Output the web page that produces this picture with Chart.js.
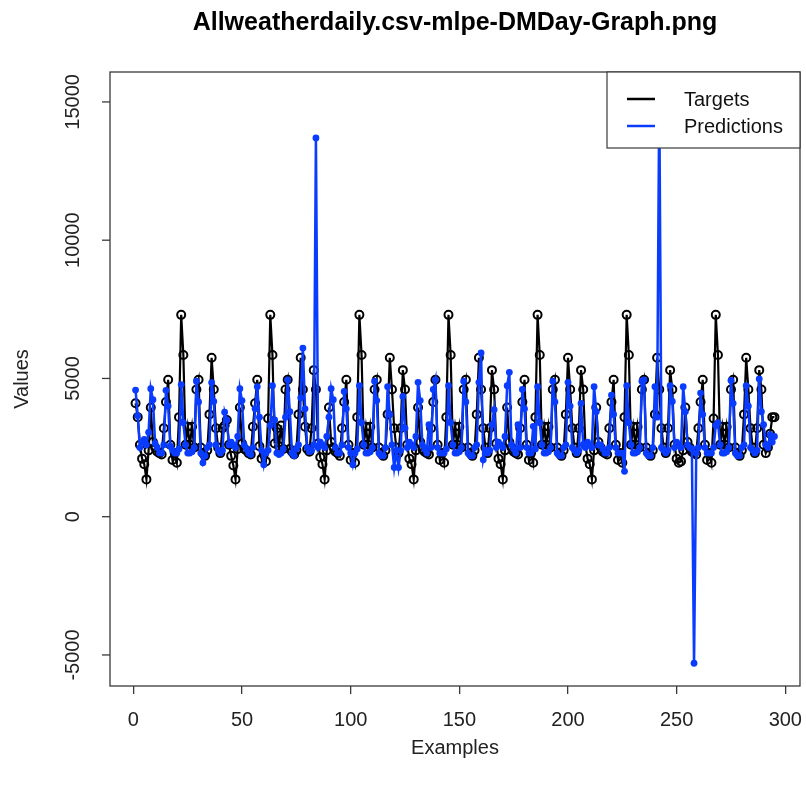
<!DOCTYPE html>
<html>
<head>
<meta charset="utf-8">
<script src="https://cdn.jsdelivr.net/npm/chart.js@4.4.1/dist/chart.umd.min.js"></script>
<style>
  html, body { margin: 0; padding: 0; background: #fff; }
  #wrap { width: 806px; height: 790px; }
</style>
</head>
<body>
<div id="wrap"><canvas id="c" width="806" height="790"></canvas></div>
<script>
// Observed daily totals (Targets) and model output (Predictions), one value per example 1..295
const targets = [
  4100,3600,2600,2100,1900,1350,2400,3950,2700,2500,
  2350,2300,2250,3200,4150,4950,2600,2050,2300,1950,
  3600,7300,5850,2600,3250,2600,3250,2500,4600,4950,
  2500,2300,2200,2400,3700,5750,4600,3200,2500,2300,
  3200,
  3300,3500,2600,2200,1850,1350,2450,3950,2650,2450,
  2400,2300,2250,3250,4100,4950,2550,2100,2250,2000,
  3550,7300,5850,2650,3200,2550,3300,2450,4600,4950,
  2450,2350,2250,2400,3700,5750,4600,3250,2450,2350,
  3200,
  5300,4600,2650,2150,1900,1350,2400,3950,2700,2500,
  2350,2300,2200,3200,4150,4950,2600,2050,2300,1950,
  3600,7300,5850,2600,3250,2600,3250,2500,4600,4950,
  2500,2300,2200,2400,3700,5750,4600,3200,2500,2300,
  3200,
  5300,4600,2600,2100,1900,1350,2400,3950,2700,2450,
  2350,2300,2250,3200,4150,4950,2600,2050,2300,1950,
  3600,7300,5850,2600,3250,2600,3250,2500,4600,4950,
  2500,2300,2200,2400,3700,5750,4600,3200,2500,2300,
  3200,
  5300,4600,2650,2100,1900,1350,2400,3950,2700,2500,
  2350,2300,2250,3200,4150,4950,2600,2050,2300,1950,
  3600,7300,5850,2600,3250,2600,3250,2500,4600,4950,
  2500,2300,2200,2400,3700,5750,4600,3200,2500,2300,
  3200,
  5300,4600,2600,2100,1900,1350,2400,3950,2700,2500,
  2350,2300,2250,3200,4150,4950,2600,2050,2300,1950,
  3600,7300,5850,2600,3250,2600,3250,2500,4600,4950,
  2500,2300,2200,2400,3700,5750,4600,3200,2500,2300,
  3200,
  5300,4600,2600,2100,1950,2000,2400,3950,2700,2500,
  2350,2300,2250,3200,4150,4950,2600,2050,2300,1950,
  3550,7300,5850,2600,3250,2600,3250,2500,4600,4950,
  2500,2300,2200,2400,3700,5750,4600,3200,2500,2300,
  3200,
  5300,4600,2600,2300,2500,3000,3600,3600
];

const predictions = [
  4580,3650,2500,2700,2800,2600,3050,4630,4230,2650,
  2500,2300,2300,2600,4570,4000,2550,2400,2300,2300,
  2450,4780,3400,2600,2300,2300,2350,2500,4900,4150,
  2300,1950,2200,2500,2600,4850,4170,2600,2400,2300,
  2400,
  3780,3500,2600,2700,2600,2500,2900,4630,4200,2600,
  2450,2300,2250,2500,3900,4700,3600,2400,1880,2300,
  2400,3300,4740,3500,2300,2250,2300,2450,3600,4950,
  3800,2300,2200,2450,2600,4300,6100,3900,2500,2350,
  2400,
  2600,13700,2500,2700,2600,2500,2900,3600,4630,4230,
  2500,2300,2300,2600,4530,3900,2500,2300,1880,2300,
  2450,4740,3400,2600,2300,2300,2350,2500,4900,4200,
  2300,2200,2200,2500,4700,3700,2600,1780,2400,1780,
  2400,
  4350,3200,2500,2700,2600,2500,2900,4860,4200,2600,
  2450,2300,3330,2500,4600,4950,2500,2300,2300,2300,
  2450,4740,3400,2600,2300,2300,2350,2500,4900,4150,
  2300,2200,2200,2500,2600,4860,5920,2060,2400,2300,
  2400,
  3330,3870,2500,2700,2600,2500,2900,4740,5220,2600,
  2450,2300,3330,2500,4600,3900,2500,2300,2300,3270,
  2450,4700,3400,2600,2300,2300,2350,2500,4900,4150,
  2300,2200,2200,2500,2600,4860,4000,2500,2400,2300,
  2400,
  4100,2600,2500,2700,2600,2500,4700,3800,2600,2600,
  2450,2300,2300,2500,4400,3700,2500,2300,2300,2300,
  1640,4740,3400,2600,2300,2300,2350,2500,4900,4950,
  2300,2200,2200,2500,4700,3600,15260,2500,2400,2300,
  2400,
  4740,4170,2500,2700,2600,2500,4700,3800,2600,2500,
  2450,-5300,2300,2500,4470,3700,2500,2300,2300,2300,
  2500,3300,3400,2600,2300,2300,2350,2500,4930,4100,
  2300,2200,2200,2500,2600,4740,4000,2500,2400,2300,
  2400,
  4980,3800,3330,2600,2500,2970,2700,2900
];

const xTicks = [0, 50, 100, 150, 200, 250, 300];
const yTicks = [-5000, 0, 5000, 10000, 15000];

const titleText = 'Allweatherdaily.csv-mlpe-DMDay-Graph.png';
const seriesNames = ['Targets', 'Predictions'];
const seriesColors = ['#000000', '#0a3cff'];

const toPoints = arr => arr.map((v, i) => ({ x: i + 1, y: v }));

// R-style padding of 4% around the data range
const n = targets.length;
const allY = targets.concat(predictions);
const yMin = Math.min(...allY), yMax = Math.max(...allY);
const xPad = 0.04 * (n - 1), yPad = 0.04 * (yMax - yMin);

const FONT = '"Liberation Sans", Arial, Helvetica, sans-serif';

const decor = {
  id: 'decor',
  afterDraw(chart) {
    const { ctx, chartArea: a, scales: { y } } = chart;
    ctx.save();
    // plot frame
    ctx.strokeStyle = '#3a3a3a';
    ctx.lineWidth = 1.3;
    ctx.strokeRect(a.left, a.top, a.right - a.left, a.bottom - a.top);

    // y ticks with labels rotated parallel to the axis
    ctx.fillStyle = '#222';
    ctx.font = '20px ' + FONT;
    ctx.textAlign = 'center';
    ctx.textBaseline = 'middle';
    yTicks.forEach(v => {
      const py = y.getPixelForValue(v);
      ctx.beginPath();
      ctx.moveTo(a.left, py);
      ctx.lineTo(a.left - 8, py);
      ctx.stroke();
      ctx.save();
      ctx.translate(73, py);
      ctx.rotate(-Math.PI / 2);
      ctx.fillText(String(v), 0, 0);
      ctx.restore();
    });

    // legend box in the top-right corner
    const lw = 193, lh = 76;
    const lx = a.right - lw, ly = a.top;
    ctx.fillStyle = '#fff';
    ctx.fillRect(lx, ly, lw, lh);
    ctx.strokeStyle = '#3a3a3a';
    ctx.lineWidth = 1.2;
    ctx.strokeRect(lx, ly, lw, lh);
    ctx.font = '20px ' + FONT;
    ctx.textAlign = 'left';
    seriesNames.forEach((name, i) => {
      const yy = ly + 27 + i * 27;
      ctx.strokeStyle = seriesColors[i];
      ctx.lineWidth = 2.5;
      ctx.beginPath();
      ctx.moveTo(lx + 20, yy);
      ctx.lineTo(lx + 48, yy);
      ctx.stroke();
      ctx.fillStyle = '#111';
      ctx.fillText(name, lx + 77, yy + 1);
    });

    // main title
    ctx.font = 'bold 25px ' + FONT;
    ctx.textAlign = 'center';
    ctx.fillStyle = '#000';
    ctx.fillText(titleText, (a.left + a.right) / 2, 23);
    ctx.restore();
  }
};

new Chart(document.getElementById('c'), {
  type: 'line',
  data: {
    datasets: [
      {
        label: seriesNames[0],
        data: toPoints(targets),
        borderColor: seriesColors[0],
        borderWidth: 2.2,
        pointStyle: 'circle',
        pointRadius: 4,
        pointBorderWidth: 2,
        pointBorderColor: seriesColors[0],
        pointBackgroundColor: 'rgba(0,0,0,0)',
        tension: 0,
        order: 2
      },
      {
        label: seriesNames[1],
        data: toPoints(predictions),
        borderColor: seriesColors[1],
        borderWidth: 2.5,
        pointStyle: 'circle',
        pointRadius: 3.4,
        pointBorderWidth: 0,
        pointBackgroundColor: seriesColors[1],
        tension: 0,
        order: 1
      }
    ]
  },
  options: {
    responsive: false,
    animation: false,
    devicePixelRatio: 1,
    layout: { padding: { top: 72, right: 5, left: 0, bottom: 0 } },
    plugins: { legend: { display: false }, tooltip: { enabled: false }, title: { display: false } },
    scales: {
      x: {
        type: 'linear',
        min: 1 - xPad,
        max: n + xPad,
        afterFit: s => { s.height = 104; s.paddingLeft = 0; s.paddingRight = 0; },
        afterBuildTicks: s => { s.ticks = xTicks.map(v => ({ value: v })); },
        grid: { display: true, drawOnChartArea: false, drawTicks: true, tickLength: 8, color: '#3a3a3a', lineWidth: 1.3 },
        border: { display: false },
        ticks: { color: '#222', font: { family: FONT, size: 20 }, padding: 14, maxRotation: 0, autoSkip: false },
        title: { display: true, text: 'Examples', color: '#222', font: { family: FONT, size: 20 }, padding: { top: 0, bottom: 30 } }
      },
      y: {
        type: 'linear',
        min: yMin - yPad,
        max: yMax + yPad,
        afterFit: s => { s.width = 110; s.paddingTop = 0; s.paddingBottom = 0; },
        afterBuildTicks: s => { s.ticks = yTicks.map(v => ({ value: v })); },
        grid: { display: false },
        border: { display: false },
        ticks: { display: false },
        title: { display: true, text: 'Values', color: '#222', font: { family: FONT, size: 20 }, padding: { top: 10, bottom: 12 } }
      }
    }
  },
  plugins: [decor]
});
</script>
</body>
</html>
